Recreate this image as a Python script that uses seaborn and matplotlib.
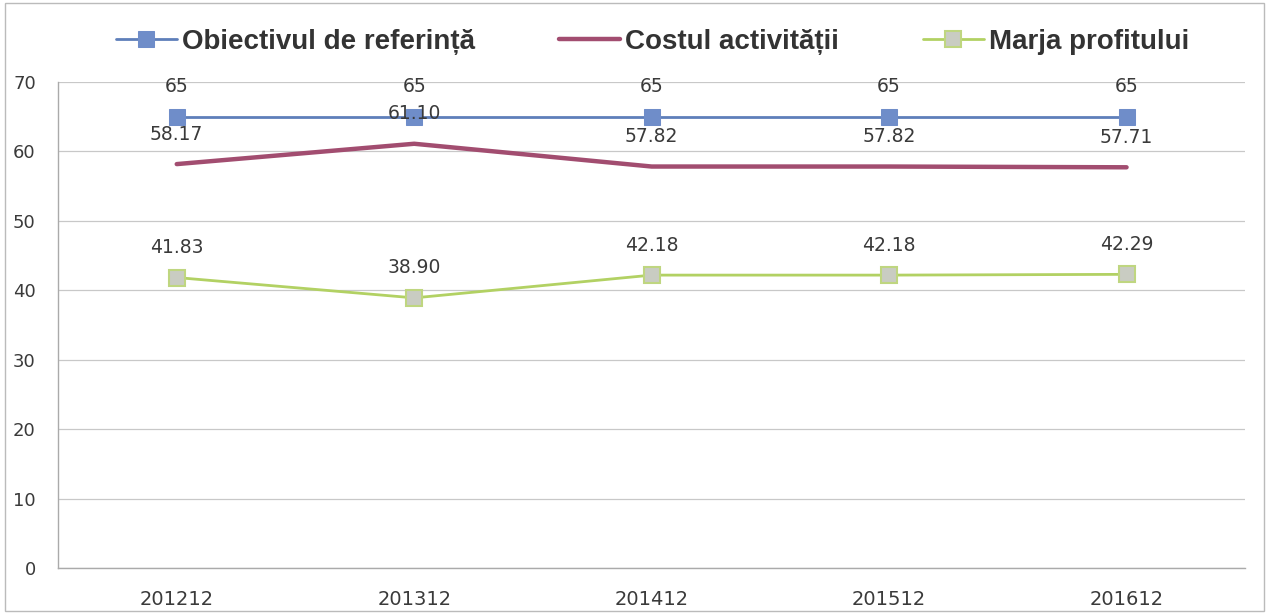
import numpy as np
import pandas as pd
import seaborn as sns
import matplotlib.pyplot as plt
from matplotlib.ticker import FixedLocator

# chart data
years = ["201212", "201312", "201412", "201512", "201612"]
obiectiv = [65, 65, 65, 65, 65]
cost = [58.17, 61.10, 57.82, 57.82, 57.71]
marja = [41.83, 38.90, 42.18, 42.18, 42.29]

labels_obiectiv = ["65", "65", "65", "65", "65"]
labels_cost = ["58.17", "61.10", "57.82", "57.82", "57.71"]
labels_marja = ["41.83", "38.90", "42.18", "42.18", "42.29"]

sns.set_theme(style="white")
plt.rcParams['font.family'] = ['DejaVu Sans']

fig = plt.figure(figsize=(12.72, 6.14), dpi=100)
ax = fig.add_axes([0.0456, 0.075, 0.9334, 0.7915])

df_o = pd.DataFrame({"an": years, "val": obiectiv})
df_c = pd.DataFrame({"an": years, "val": cost})
df_m = pd.DataFrame({"an": years, "val": marja})

sns.lineplot(data=df_o, x="an", y="val", ax=ax, color="#5E7FBA", lw=2,
             marker="s", markersize=11, markerfacecolor="#6F8DC9",
             markeredgecolor="#6F8DC9", label="Obiectivul de referință")
sns.lineplot(data=df_c, x="an", y="val", ax=ax, color="#A24D70", lw=3.2,
             label="Costul activității", solid_capstyle="round")
sns.lineplot(data=df_m, x="an", y="val", ax=ax, color="#B2D163", lw=2,
             marker="s", markersize=11, markerfacecolor="#C9CCC2",
             markeredgecolor="#BFD680", markeredgewidth=1.5,
             label="Marja profitului")

# data labels
for vals, labs in [(obiectiv, labels_obiectiv), (cost, labels_cost), (marja, labels_marja)]:
    for i, (v, t) in enumerate(zip(vals, labs)):
        ax.annotate(t, (i, v), xytext=(0, 30), textcoords="offset pixels",
                    ha="center", va="center", fontsize=13.5, color="#3a3a3a")

ax.set_xlim(-0.5, 4.5)
ax.set_ylim(0, 70)
ax.set_yticks(np.arange(0, 71, 10))
ax.set_xlabel("")
ax.set_ylabel("")
ax.grid(axis="y", color="#c8c8c8", lw=0.9)
ax.tick_params(axis="y", labelsize=13, colors="#3a3a3a", length=0, pad=16)
ax.tick_params(axis="x", labelsize=14, colors="#3a3a3a", length=0, pad=16)
ax.xaxis.set_minor_locator(FixedLocator([-0.5, 0.5, 1.5, 2.5, 3.5, 4.5]))
ax.tick_params(axis="x", which="minor", length=5, direction="inout", color="#999999")
for s in ["top", "right"]:
    ax.spines[s].set_visible(False)
for s in ["left", "bottom"]:
    ax.spines[s].set_color("#aaaaaa")
    ax.spines[s].set_linewidth(1)

ax.get_legend().remove()
h, l = ax.get_legend_handles_labels()
fig.legend(h, l, loc="center", bbox_to_anchor=(0.513, 0.932), ncol=3, frameon=False,
           prop={"family": "Liberation Sans", "weight": "bold", "size": 20},
           handlelength=2.2, columnspacing=3.0, handletextpad=0.2,
           labelcolor="#333333")

# outer chart border
fig.add_artist(plt.Rectangle((0.004, 0.005), 0.99, 0.99, transform=fig.transFigure,
                             fill=False, edgecolor="#bbbbbb", lw=1))

fig.savefig("out.png", dpi=100)
